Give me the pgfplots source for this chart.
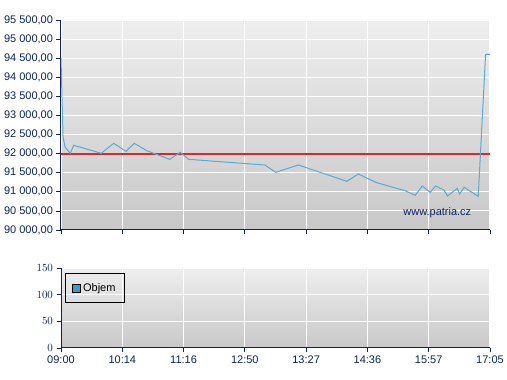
\documentclass[border=0pt]{standalone}
\usepackage{fontspec}
\setmainfont{Liberation Sans}
\usepackage{pgfplots}
\pgfplotsset{compat=1.18}
\definecolor{navy}{HTML}{0B2361}
\definecolor{lineblue}{HTML}{58ABD3}
\definecolor{refred}{HTML}{E0262A}
\definecolor{legfill}{HTML}{3A9BD0}
\definecolor{bgtop}{HTML}{EEEEEE}
\definecolor{bgbot}{HTML}{C8C8C8}
\begin{document}
\begin{tikzpicture}[x=1pt,y=1pt]
\useasboundingbox (0,0) rectangle (507,380);
\pgfplotsset{
 chart/.style={
  scale only axis, width=429pt,
  xmin=0, xmax=7, xtick={0,...,7},
  axis x line*=bottom, axis y line*=left,
  axis line style={navy, line width=1pt, -},
  tick align=outside, major tick length=4.5pt,
  tick style={navy, line width=0.8pt},
  grid=major, major grid style={white, line width=1.1pt},
  axis background/.style={top color=bgtop, bottom color=bgbot},
  every tick label/.append style={font=\fontsize{11}{13}\selectfont, text=navy},
  scaled y ticks=false,
 }}
\begin{axis}[chart, at={(61pt,150pt)}, anchor=south west, height=210pt,
  ymin=90000, ymax=95500, ytick={90000,90500,...,95500},
  yticklabels={90 000{,}00,90 500{,}00,91 000{,}00,91 500{,}00,92 000{,}00,92 500{,}00,93 000{,}00,93 500{,}00,94 000{,}00,94 500{,}00,95 000{,}00,95 500{,}00},
  xticklabels={}]
\addplot[refred, mark=none, line width=2pt] coordinates {(0,92000) (7,92000)};
\addplot[draw=lineblue, mark=none, line width=1pt] coordinates {
(0,94500) (0.033,92444) (0.065,92174) (0.152,92009) (0.207,92218) (0.657,92009)
(0.860,92270) (1.060,92060) (1.196,92270) (1.398,92078) (1.773,91851) (1.946,92034)
(2.083,91851) (3.328,91702) (3.502,91511) (3.871,91702) (4.666,91275) (4.850,91467)
(5.150,91240) (5.612,91030) (5.780,90908) (5.894,91152) (6.024,90987) (6.113,91152)
(6.248,91048) (6.308,90890) (6.465,91092) (6.504,90943) (6.579,91118) (6.808,90882)
(6.928,94601) (7.0,94600)};
\node[text=navy, font=\fontsize{11}{13}\selectfont] at (axis cs:6.14,90445) {www.patria.cz};
\end{axis}
\begin{axis}[chart, at={(61pt,32pt)}, anchor=south west, height=80pt,
  ymin=0, ymax=150, ytick={0,50,100,150},
  xticklabels={09:00,10:14,11:16,12:50,13:27,14:36,15:57,17:05},
  legend style={at={(axis description cs:0.0093,0.9375)}, anchor=north west,
    draw=black, line width=0.8pt, fill=none, font=\fontsize{11}{13}\selectfont,
    inner xsep=7pt, inner ysep=8pt, text=black}]
\addlegendimage{legend image code/.code={\draw[black, line width=0.7pt, fill=legfill] (0pt,-4pt) rectangle (8pt,4pt);}}
\addlegendentry{Objem}
\end{axis}
\end{tikzpicture}
\end{document}
